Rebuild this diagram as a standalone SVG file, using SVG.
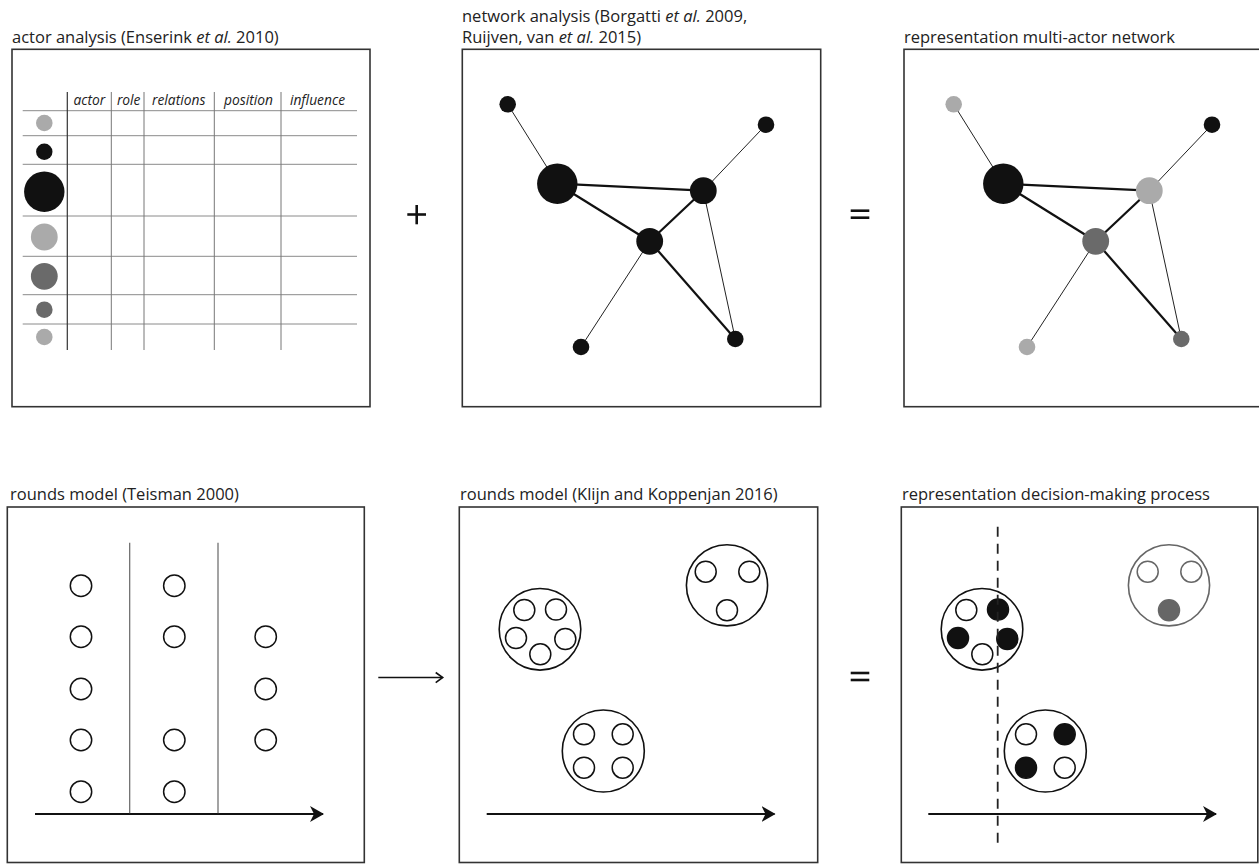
<svg xmlns="http://www.w3.org/2000/svg" width="1259" height="864" viewBox="0 0 1259 864">
<style>
.title{font-family:"Open Sans","Liberation Sans",sans-serif;font-size:16.5px;fill:#222}
.hdr{font-family:"Open Sans","Liberation Sans",sans-serif;font-size:13.8px;font-style:italic;fill:#222}
.box{fill:none;stroke:#333;stroke-width:1.6}
.hl{stroke:#8a8a8a;stroke-width:1}
.vl{stroke:#777;stroke-width:1}
.thin{stroke:#222;stroke-width:1}
.thick{stroke:#111;stroke-width:2.2}
.lg{fill:#aaa}
.dg{fill:#6a6a6a}
.bk{fill:#111}
.oc{fill:#fff;stroke:#111;stroke-width:1.5}
.fc{fill:#111;stroke:#111;stroke-width:1.5}
.big{fill:#fff;stroke:#111;stroke-width:1.6}
.gbig{fill:#fff;stroke:#666;stroke-width:1.6}
.goc{fill:#fff;stroke:#666;stroke-width:1.5}
.gfc{fill:#666;stroke:#666;stroke-width:1.5}
.axis{stroke:#111;stroke-width:1.8;fill:none}
.sym{stroke:#111;stroke-width:2.6}
</style>
<defs>
<marker id="ah" viewBox="0 0 14 16" refX="13" refY="8" markerWidth="14" markerHeight="16" markerUnits="userSpaceOnUse" orient="auto">
<path d="M0,0 L14,8 L0,16 L4,8 z" fill="#111"/>
</marker>
</defs>

<!-- Panel 1: actor analysis -->
<g id="panel-actor-analysis">
<text class="title" x="12" y="43">actor analysis (Enserink <tspan font-style="italic">et al.</tspan> 2010)</text>
<rect class="box" x="12" y="49.3" width="358" height="357.4"/>
<g id="table">
<line class="hl" x1="22.7" y1="110.7" x2="357" y2="110.7" stroke="#555"/>
<line class="hl" x1="22.7" y1="135.7" x2="357" y2="135.7"/>
<line class="hl" x1="22.7" y1="164.3" x2="357" y2="164.3"/>
<line class="hl" x1="22.7" y1="216" x2="357" y2="216"/>
<line class="hl" x1="22.7" y1="256.3" x2="357" y2="256.3"/>
<line class="hl" x1="22.7" y1="294.7" x2="357" y2="294.7"/>
<line class="hl" x1="22.7" y1="324" x2="357" y2="324"/>
<line x1="67.3" y1="92" x2="67.3" y2="350" stroke="#333" stroke-width="1.2"/>
<line class="vl" x1="111.3" y1="92" x2="111.3" y2="350"/>
<line class="vl" x1="144" y1="92" x2="144" y2="350"/>
<line class="vl" x1="214.3" y1="92" x2="214.3" y2="350"/>
<line class="vl" x1="281" y1="92" x2="281" y2="350"/>
<text class="hdr" x="89.3" y="105" text-anchor="middle">actor</text>
<text class="hdr" x="128.7" y="105" text-anchor="middle">role</text>
<text class="hdr" x="178.7" y="105" text-anchor="middle">relations</text>
<text class="hdr" x="248.5" y="105" text-anchor="middle">position</text>
<text class="hdr" x="317.5" y="105" text-anchor="middle">influence</text>
<circle class="lg" cx="44.3" cy="123" r="8.3"/>
<circle class="bk" cx="44.3" cy="151.7" r="8.2"/>
<circle class="bk" cx="44.3" cy="191.7" r="20.2"/>
<circle class="lg" cx="44.3" cy="237" r="13.4"/>
<circle class="dg" cx="44.3" cy="276.3" r="13.4"/>
<circle class="dg" cx="44.3" cy="309.7" r="8.3"/>
<circle class="lg" cx="44.3" cy="337" r="8.3"/>
</g>
</g>

<g id="op-plus">
<line class="sym" x1="407.3" y1="214.5" x2="426" y2="214.5"/>
<line class="sym" x1="416.7" y1="205" x2="416.7" y2="224.3"/>
</g>

<!-- Panel 2: network analysis -->
<g id="panel-network-analysis">
<text class="title" x="462" y="21.5">network analysis (Borgatti <tspan font-style="italic">et al.</tspan> 2009,</text>
<text class="title" x="462" y="43.3">Ruijven, van <tspan font-style="italic">et al.</tspan> 2015)</text>
<rect class="box" x="462.3" y="49.3" width="358.4" height="357.4"/>
</g>

<g id="connectors">
<g id="net2-edges">
<line class="thin" x1="507.7" y1="104.3" x2="557.3" y2="183.7"/>
<line class="thin" x1="766" y1="124.7" x2="703.3" y2="190.7"/>
<line class="thin" x1="649.7" y1="241.3" x2="581" y2="347"/>
<line class="thin" x1="703.3" y1="190.7" x2="735.3" y2="339"/>
<line class="thick" x1="557.3" y1="183.7" x2="703.3" y2="190.7"/>
<line class="thick" x1="557.3" y1="183.7" x2="649.7" y2="241.3"/>
<line class="thick" x1="649.7" y1="241.3" x2="703.3" y2="190.7"/>
<line class="thick" x1="649.7" y1="241.3" x2="735.3" y2="339"/>
</g>
<g id="net3-edges" transform="translate(446,0)">
<line class="thin" x1="507.7" y1="104.3" x2="557.3" y2="183.7"/>
<line class="thin" x1="766" y1="124.7" x2="703.3" y2="190.7"/>
<line class="thin" x1="649.7" y1="241.3" x2="581" y2="347"/>
<line class="thin" x1="703.3" y1="190.7" x2="735.3" y2="339"/>
<line class="thick" x1="557.3" y1="183.7" x2="703.3" y2="190.7"/>
<line class="thick" x1="557.3" y1="183.7" x2="649.7" y2="241.3"/>
<line class="thick" x1="649.7" y1="241.3" x2="703.3" y2="190.7"/>
<line class="thick" x1="649.7" y1="241.3" x2="735.3" y2="339"/>
</g>
<g id="time-arrows">
<line class="axis" x1="35" y1="814" x2="323" y2="814" marker-end="url(#ah)"/>
<line class="axis" x1="486.7" y1="814" x2="774.5" y2="814" marker-end="url(#ah)"/>
<line class="axis" x1="928.3" y1="814" x2="1216" y2="814" marker-end="url(#ah)"/>
</g>
<g id="arrow-between">
<line x1="378.3" y1="677.5" x2="442.5" y2="677.5" stroke="#111" stroke-width="1.6"/>
<polyline points="435.7,672.5 442.7,677.5 435.7,682.7" fill="none" stroke="#111" stroke-width="1.6"/>
</g>
</g>

<g id="net2-nodes">
<circle class="bk" cx="507.7" cy="104.3" r="8.3"/>
<circle class="bk" cx="557.3" cy="183.7" r="20.2"/>
<circle class="bk" cx="703.3" cy="190.7" r="13.4"/>
<circle class="bk" cx="766" cy="124.7" r="8.3"/>
<circle class="bk" cx="649.7" cy="241.3" r="13.4"/>
<circle class="bk" cx="581" cy="347" r="8.3"/>
<circle class="bk" cx="735.3" cy="339" r="8.3"/>
</g>

<g id="op-equals-top">
<line class="sym" x1="850.7" y1="210.7" x2="869.3" y2="210.7"/>
<line class="sym" x1="850.7" y1="217.7" x2="869.3" y2="217.7"/>
</g>

<!-- Panel 3: representation multi-actor network -->
<g id="panel-multi-actor-network">
<text class="title" x="904" y="43">representation multi-actor network</text>
<rect class="box" x="904" y="49.3" width="360" height="357.4"/>
<g id="net3-nodes" transform="translate(446,0)">
<circle class="lg" cx="507.7" cy="104.3" r="8.3"/>
<circle class="bk" cx="557.3" cy="183.7" r="20.2"/>
<circle class="lg" cx="703.3" cy="190.7" r="13.4"/>
<circle class="bk" cx="766" cy="124.7" r="8.3"/>
<circle class="dg" cx="649.7" cy="241.3" r="13.4"/>
<circle class="lg" cx="581" cy="347" r="8.3"/>
<circle class="dg" cx="735.3" cy="339" r="8.3"/>
</g>
</g>

<!-- Panel 4: rounds model Teisman -->
<g id="panel-rounds-teisman">
<text class="title" x="10" y="500">rounds model (Teisman 2000)</text>
<rect class="box" x="7.3" y="507" width="357" height="355.5"/>
<line x1="129.7" y1="542.7" x2="129.7" y2="813.3" stroke="#666" stroke-width="1.2"/>
<line x1="218" y1="542.7" x2="218" y2="813.3" stroke="#666" stroke-width="1.2"/>
<circle class="oc" cx="81" cy="585.7" r="10.7"/>
<circle class="oc" cx="81" cy="636.7" r="10.7"/>
<circle class="oc" cx="81" cy="689" r="10.7"/>
<circle class="oc" cx="81" cy="740" r="10.7"/>
<circle class="oc" cx="81" cy="791.7" r="10.7"/>
<circle class="oc" cx="174.3" cy="585.7" r="10.7"/>
<circle class="oc" cx="174.3" cy="636.7" r="10.7"/>
<circle class="oc" cx="174.3" cy="740" r="10.7"/>
<circle class="oc" cx="174.3" cy="791.7" r="10.7"/>
<circle class="oc" cx="265.7" cy="636.7" r="10.7"/>
<circle class="oc" cx="265.7" cy="689" r="10.7"/>
<circle class="oc" cx="265.7" cy="740" r="10.7"/>
</g>

<!-- Panel 5: rounds model Klijn and Koppenjan -->
<g id="panel-rounds-klijn">
<text class="title" x="460" y="500">rounds model (Klijn and Koppenjan 2016)</text>
<rect class="box" x="459.3" y="507" width="358.4" height="355.5"/>
<g id="round-a">
<circle class="big" cx="540" cy="629.3" r="40.8"/>
<circle class="oc" cx="524.3" cy="610" r="10.5"/>
<circle class="oc" cx="556" cy="609.5" r="10.5"/>
<circle class="oc" cx="516" cy="638" r="10.5"/>
<circle class="oc" cx="565.3" cy="639" r="10.5"/>
<circle class="oc" cx="540.3" cy="654.3" r="10.5"/>
</g>
<g id="round-b">
<circle class="big" cx="727" cy="585.3" r="40.6"/>
<circle class="oc" cx="705.7" cy="571.7" r="10.5"/>
<circle class="oc" cx="749.3" cy="571.7" r="10.5"/>
<circle class="oc" cx="727" cy="610.3" r="10.5"/>
</g>
<g id="round-c">
<circle class="big" cx="603.3" cy="751" r="41"/>
<circle class="oc" cx="584" cy="734.3" r="10.5"/>
<circle class="oc" cx="622.7" cy="734.3" r="10.5"/>
<circle class="oc" cx="584" cy="767.7" r="10.5"/>
<circle class="oc" cx="622.7" cy="767.7" r="10.5"/>
</g>
</g>

<g id="op-equals-bottom">
<line class="sym" x1="850.7" y1="673" x2="869.3" y2="673"/>
<line class="sym" x1="850.7" y1="680" x2="869.3" y2="680"/>
</g>

<!-- Panel 6: representation decision-making process -->
<g id="panel-decision-making">
<text class="title" x="902" y="500">representation decision-making process</text>
<rect class="box" x="901.3" y="507" width="356.5" height="355.5"/>
<g id="round-a2">
<circle class="big" cx="982" cy="629.3" r="40.8"/>
<circle class="oc" cx="966.3" cy="610" r="10.5"/>
<circle class="fc" cx="998" cy="609.5" r="10.5"/>
<circle class="fc" cx="958" cy="638" r="10.5"/>
<circle class="fc" cx="1007.3" cy="639" r="10.5"/>
<circle class="oc" cx="982.3" cy="654.3" r="10.5"/>
</g>
<g id="round-b2">
<circle class="gbig" cx="1169" cy="585.3" r="40.6"/>
<circle class="goc" cx="1147.7" cy="571.7" r="10.5"/>
<circle class="goc" cx="1191.3" cy="571.7" r="10.5"/>
<circle class="gfc" cx="1169" cy="610.3" r="10.5"/>
</g>
<g id="round-c2">
<circle class="big" cx="1045.3" cy="751" r="41"/>
<circle class="oc" cx="1026" cy="734.3" r="10.5"/>
<circle class="fc" cx="1064.7" cy="734.3" r="10.5"/>
<circle class="fc" cx="1026" cy="767.7" r="10.5"/>
<circle class="oc" cx="1064.7" cy="767.7" r="10.5"/>
</g>
<line x1="997.7" y1="526.7" x2="997.7" y2="845" stroke="#222" stroke-width="1.8" stroke-dasharray="10 7"/>
</g>
</svg>
